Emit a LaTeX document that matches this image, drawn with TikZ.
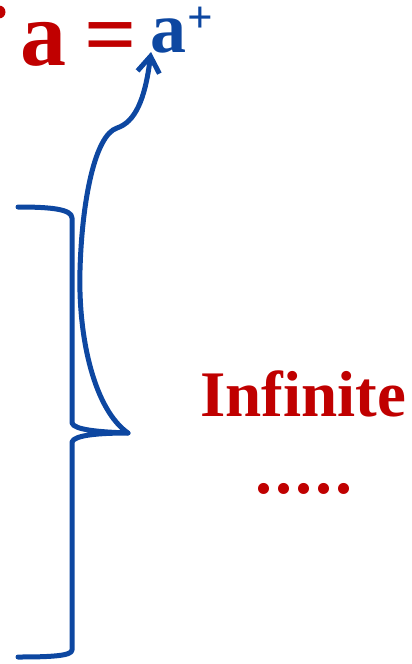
\documentclass[tikz,border=0pt]{standalone}
\usepackage{fontspec}
\setmainfont{Liberation Serif}
\usetikzlibrary{arrows.meta}
\definecolor{myred}{RGB}{192,0,0}
\definecolor{myblue}{RGB}{13,71,161}
\tikzset{
  redtxt/.style={text=myred, inner sep=0pt, font=\bfseries\fontsize{#1}{#1}\selectfont},
  bluetxt/.style={text=myblue, inner sep=0pt, font=\bfseries\fontsize{#1}{#1}\selectfont},
  bluestroke/.style={draw=myblue, line width=5pt, line cap=round, line join=round},
}
\begin{document}
\begin{tikzpicture}[x=1pt,y=-1pt]
\useasboundingbox (0,0) rectangle (412,664);
\clip (0,0) rectangle (412,664);
% cut-off glyph at the left edge
\fill[myred] (-1,12) circle (6.5);
% equation
\node[redtxt=92, anchor=base west] (ra) at (20,65) {a};
\node[redtxt=92, anchor=base west] (eq) at (84,65) {=};
\node[bluetxt=72, anchor=base west] (ba) at (150,52) {a};
\node[bluetxt=45, anchor=base west] (pl) at (187,32) {+};
% labels
\node[redtxt=65, anchor=base] (inf) at (303,416) {Infinite};
\node[redtxt=68, anchor=base] (dots) at (304,493) {.\kern2.8pt.\kern2.8pt.\kern2.8pt.\kern2.8pt.};
% brace
\coordinate (tip) at (128,433);
\coordinate (atip) at (151,52);
\draw[bluestroke] (18,207) .. controls (50,207) and (72,209) .. (72,218)
  -- (72,423) .. controls (74,430) and (100,432) .. (tip)
  .. controls (100,433) and (74,435) .. (72,442)
  -- (72,650) .. controls (72,656) and (50,657) .. (18,657);
% arrow
\draw[bluestroke, -{Straight Barb[length=16pt,width=22pt]}] (tip)
  .. controls (95,410) and (78,340) .. (80,270)
  .. controls (82,200) and (95,135) .. (117,128)
  .. controls (135,122) and (145,100) .. (atip);
\end{tikzpicture}
\end{document}
